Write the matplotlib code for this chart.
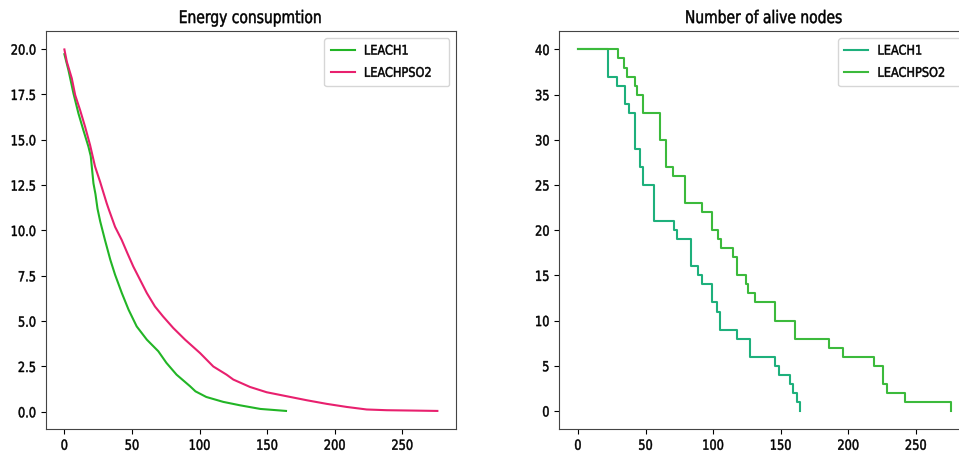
import matplotlib
matplotlib.use("Agg")
import matplotlib.pyplot as plt
from matplotlib.patheffects import AbstractPathEffect
from matplotlib.transforms import Affine2D

plt.rcParams['font.family'] = ['DejaVu Sans']

# ---- Energy consumption data ----
leach1_energy_x = [0, 3, 6.7, 10.4, 14, 17.8, 19.5, 21.5, 23, 24.5, 26.5, 30, 34, 37.5, 42.5,
                   47.5, 53.5, 61, 69.5, 75.5, 83, 93, 97, 105, 117.5, 130, 145, 164]
leach1_energy_y = [19.72, 18.84, 17.56, 16.45, 15.54, 14.62, 14.1, 12.6, 12.0, 11.2, 10.5, 9.48,
                   8.38, 7.56, 6.55, 5.63, 4.71, 3.98, 3.34, 2.70, 2.05, 1.41, 1.13, 0.82, 0.55,
                   0.36, 0.16, 0.05]

pso2_energy_x = [0, 1.8, 5.5, 8, 11.6, 15.3, 19, 22.7, 26.4, 31.3, 33, 37.5, 42.4, 46.6, 51, 56,
                 61, 67, 73, 80.6, 89.3, 100.4, 110.2, 120, 125, 137.4, 149.7, 164.5, 179.3,
                 194.1, 208.9, 223.7, 238.5, 258, 276]
pso2_energy_y = [19.98, 19.3, 18.38, 17.46, 16.64, 15.72, 14.71, 13.52, 12.69, 11.5, 11.13, 10.2,
                 9.48, 8.75, 8.01, 7.28, 6.55, 5.81, 5.26, 4.62, 3.98, 3.24, 2.5, 2.05, 1.78,
                 1.37, 1.08, 0.86, 0.64, 0.44, 0.27, 0.13, 0.09, 0.07, 0.05]

# ---- Alive nodes data (round where value starts, value) ----
leach1_alive_x = [0, 22, 29, 35, 38, 42, 46, 48, 56, 71, 73, 84, 89, 92, 99, 103, 105, 118,
                  127, 146, 149, 157, 159, 162, 164]
leach1_alive_y = [40, 37, 36, 34, 33, 29, 27, 25, 21, 20, 19, 16, 15, 14, 12, 11, 9, 8,
                  6, 5, 4, 3, 2, 1, 0]

pso2_alive_x = [0, 30, 34, 36, 42, 44, 48, 61, 65, 70, 79, 92, 99, 104, 106, 115, 118, 124,
                126, 131, 146, 161, 186, 196, 219, 226, 229, 242, 276]
pso2_alive_y = [40, 39, 38, 37, 36, 35, 33, 30, 27, 26, 23, 22, 20, 19, 18, 17, 15, 14,
                13, 12, 10, 8, 7, 6, 5, 3, 2, 1, 0]

labels = ['LEACH1', 'LEACHPSO2']
titles = ['Energy consupmtion', 'Number of alive nodes']


class HSqueeze(AbstractPathEffect):
    """Draw text narrower horizontally (the reference text is condensed)."""
    def __init__(self, sx=0.8, anchor='center', stroke=0.35):
        super().__init__()
        self.sx = sx
        self.anchor = anchor
        self.stroke = stroke

    def draw_path(self, renderer, gc, tpath, affine, rgbFace=None):
        verts = affine.transform(tpath.vertices)
        if len(verts) == 0:
            return
        xmin, xmax = verts[:, 0].min(), verts[:, 0].max()
        x0 = {'left': xmin, 'center': 0.5 * (xmin + xmax), 'right': xmax}[self.anchor]
        new = affine + Affine2D().translate(-x0, 0).scale(self.sx, 1).translate(x0, 0)
        gc0 = renderer.new_gc()
        gc0.copy_properties(gc)
        if rgbFace is not None:
            gc0.set_foreground(rgbFace)
        gc0.set_linewidth(self.stroke)
        renderer.draw_path(gc0, tpath, new, rgbFace)
        gc0.restore()


fig = plt.figure(figsize=(9.59, 4.56), dpi=100)
ax1 = fig.add_axes([0.0477, 0.057, 0.4278, 0.872])
ax2 = fig.add_axes([0.5832, 0.057, 0.4278, 0.872])

ax1.plot(leach1_energy_x, leach1_energy_y, color='#22b526', lw=1.5, label=labels[0])
ax1.plot(pso2_energy_x, pso2_energy_y, color='#e8206e', lw=1.5, label=labels[1])
ax1.set_title(titles[0], fontsize=12.5)
ax1.set_yticks([0, 2.5, 5, 7.5, 10, 12.5, 15, 17.5, 20])
ax1.set_xticks([0, 50, 100, 150, 200, 250])

ax2.plot(leach1_alive_x, leach1_alive_y, color='#1eb07c', lw=1.5, drawstyle='steps-post', label=labels[0])
ax2.plot(pso2_alive_x, pso2_alive_y, color='#3cba3c', lw=1.5, drawstyle='steps-post', label=labels[1])
ax2.set_title(titles[1], fontsize=12.5)
ax2.set_yticks([0, 5, 10, 15, 20, 25, 30, 35, 40])
ax2.set_xticks([0, 50, 100, 150, 200, 250])

for ax in (ax1, ax2):
    for s in ax.spines.values():
        s.set_color('#444444')
    ax.tick_params(labelsize=10)
    ax.title.set_path_effects([HSqueeze(0.8, 'center')])
    for lab in ax.get_xticklabels():
        lab.set_path_effects([HSqueeze(0.82, 'center')])
    for lab in ax.get_yticklabels():
        lab.set_path_effects([HSqueeze(0.82, 'right')])
    leg = ax.legend(loc='upper right', fontsize=9.5, handlelength=1.8, handletextpad=0.7,
                    borderpad=0.5, labelspacing=0.7)
    for t in leg.get_texts():
        t.set_path_effects([HSqueeze(0.86, 'left')])

fig.savefig('out.png', dpi=100)
